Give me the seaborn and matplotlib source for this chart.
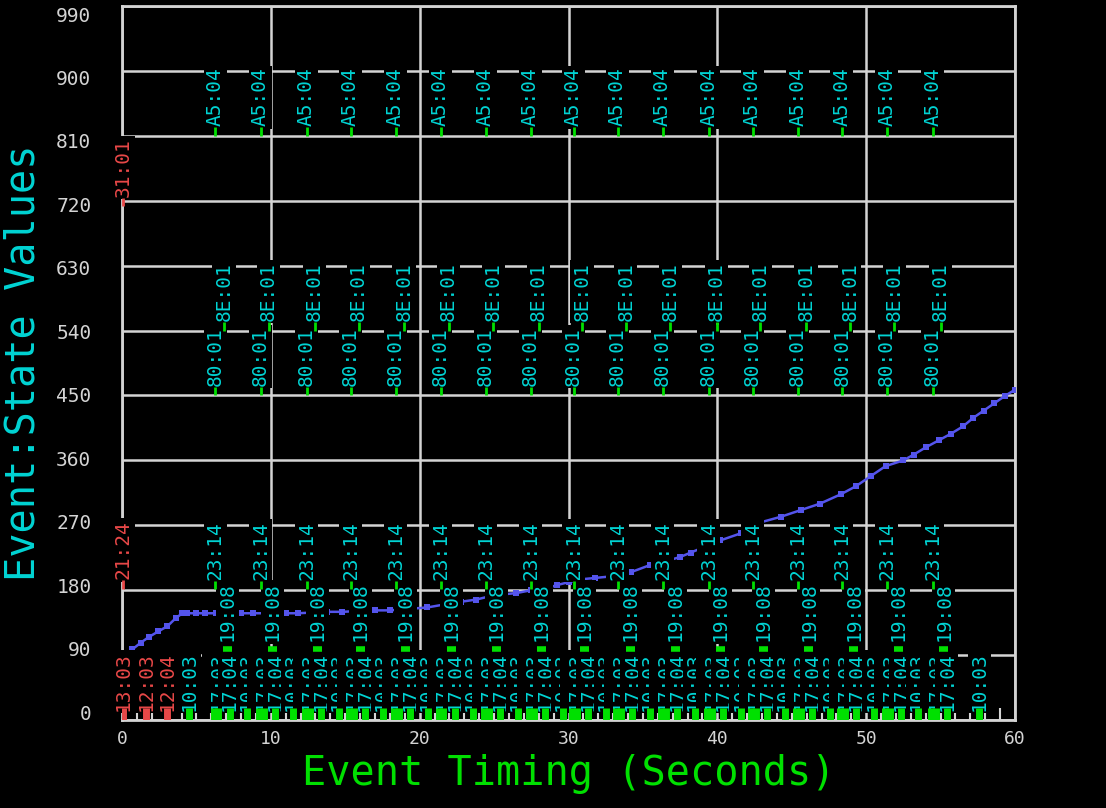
"""Event timing chart: state values over time with labelled events."""
import pandas as pd
import matplotlib.pyplot as plt
import matplotlib.transforms as mtransforms
import seaborn as sns

BG = "black"
GRID = "#d4d4d4"
CYAN = "#00d4d4"
RED = "#e84848"
GREEN = "#00e000"
BLUE = "#5454ec"

# state value curve (seconds, value)
curve_t = [0.7, 1.25, 1.8, 2.45, 3.05, 3.6, 4.05, 4.4, 4.95, 5.6, 6.3, 7.2, 8.0, 8.8, 9.8,
           11.0, 11.8, 12.8, 13.8, 14.8, 15.8, 17.0, 18.0, 19.2, 20.5, 21.6, 22.8, 23.8,
           24.8, 25.5, 26.5, 27.5, 28.5, 29.2, 30.0, 30.8, 31.8, 32.8, 33.5, 34.2, 35.5,
           36.5, 37.5, 38.2, 38.9, 40.2, 41.6, 42.9, 44.3, 45.6, 46.9, 48.3, 49.3, 50.3,
           51.3, 52.5, 53.2, 54.0, 54.9, 55.7, 56.5, 57.2, 57.9, 58.6, 59.3, 60.0]
curve_v = [98, 107, 115, 123, 130, 141, 148, 148, 148, 148, 148, 148, 148, 148, 148,
           148, 148, 149, 150, 150, 151, 152, 152, 154, 156, 160, 164, 167,
           172, 174, 176, 180, 182, 187, 191, 195, 197, 199, 202, 205, 215,
           220, 226, 232, 238, 249, 259, 274, 282, 291, 300, 313, 324, 338,
           352, 360, 368, 378, 388, 397, 407, 419, 429, 439, 449, 458]

# periodic events (seconds)
a5_times = [6.28, 9.31, 12.40, 15.36, 18.38, 21.40, 24.43, 27.45, 30.34, 33.30, 36.32,
            39.42, 42.37, 45.40, 48.36, 51.38, 54.47]
e80_times = [6.28, 9.31, 12.40, 15.36, 18.38, 21.40, 24.43, 27.45, 30.34, 33.30, 36.32,
             39.42, 42.37, 45.40, 48.36, 51.38, 54.47]
e8e_times = [6.85, 9.85, 12.95, 15.90, 18.95, 21.95, 24.95, 28.00, 30.90, 33.85, 36.85,
             39.95, 42.90, 45.95, 48.90, 51.90, 55.00]
e23_times = [6.28, 9.31, 12.40, 15.36, 18.38, 21.40, 24.43, 27.45, 30.34, 33.30, 36.32,
             39.42, 42.37, 45.40, 48.36, 51.38, 54.47]
e19_times = [7.09, 10.11, 13.14, 16.03, 19.05, 22.14, 25.17, 28.19, 31.08, 34.17, 37.19,
             40.22, 43.11, 46.14, 49.16, 52.18, 55.21]
# bottom row: a pair of nearly coincident events, then 17:04, then 10:03
e10a_times = [6.18, 9.21, 12.30, 15.26, 18.28, 21.30, 24.33, 27.35, 30.24, 33.20, 36.22,
              39.32, 42.27, 45.30, 48.26, 51.28, 54.37]
e17c_times = [6.48, 9.51, 12.60, 15.56, 18.58, 21.60, 24.63, 27.65, 30.54, 33.50, 36.52,
              39.62, 42.57, 45.60, 48.56, 51.58, 54.67]
e17_times = [7.23, 10.26, 13.35, 16.31, 19.33, 22.35, 25.38, 28.40, 31.29, 34.25, 37.27,
             40.37, 43.32, 46.35, 49.31, 52.33, 55.42]
e10b_times = [4.50, 8.43, 11.46, 14.55, 17.51, 20.53, 23.55, 26.58, 29.60, 32.49, 35.45,
              38.47, 41.57, 44.52, 47.55, 50.51, 53.45, 57.60]

# single red events: (seconds, level, label)
red_events = [(0.1, 0, "13:03"), (1.6, 0, "12:03"), (3.05, 0, "12:04"),
              (0.1, 182, "21:24"), (0.1, 712, "31:01")]

x_ticks = [0, 10, 20, 30, 40, 50, 60]
y_ticks = [0, 90, 180, 270, 360, 450, 540, 630, 720, 810, 900, 990]


def _build_events():
    rows = []
    for times, level, label in [
        (e10a_times, 0, "10:03"), (e17c_times, 0, "17:03"), (e17_times, 0, "17:04"),
        (e10b_times, 0, "10:03"), (e19_times, 96, "19:08"), (e23_times, 181, "23:14"),
        (e80_times, 450, "80:01"), (e8e_times, 540, "8E:01"), (a5_times, 810, "A5:04"),
    ]:
        rows += [dict(time=t, level=level, label=label, color=CYAN) for t in times]
    rows += [dict(time=t, level=lv, label=lb, color=RED) for t, lv, lb in red_events]
    return pd.DataFrame(rows).sort_values("time", kind="stable")


def main():
    sns.set_theme(style="dark", rc={
        "axes.facecolor": BG, "figure.facecolor": BG, "savefig.facecolor": BG,
        "axes.edgecolor": GRID, "grid.color": GRID, "text.color": GRID,
        "xtick.color": GRID, "ytick.color": GRID,
    })
    plt.rcParams["font.family"] = ["DejaVu Sans Mono", "DejaVu Sans"]

    fig = plt.figure(figsize=(11.06, 8.08), dpi=100)
    ax = fig.add_axes([122 / 1106, 1 - 720 / 808, 893 / 1106, 714 / 808])

    sns.lineplot(x=curve_t, y=curve_v, color=BLUE, marker="s", markersize=4,
                 markeredgewidth=0, linewidth=1.8, ax=ax, zorder=3)

    events = _build_events()
    for ev in events.itertuples():
        bottom_row = ev.level == 0
        mark_color = RED if ev.color == RED else GREEN
        if ev.label == "19:08":
            ax.plot([ev.time - 0.3, ev.time + 0.3], [ev.level + 2, ev.level + 2],
                    color=GREEN, lw=4, solid_capstyle="butt", zorder=7)
        else:
            ax.vlines(ev.time, ev.level, ev.level + (16 if bottom_row else 12),
                      color=mark_color, lw=5 if bottom_row else 2, zorder=7)
        ax.text(ev.time, ev.level + 13, ev.label, rotation=90, ha="center", va="bottom",
                color=ev.color, fontsize=14,
                bbox=dict(facecolor=BG, edgecolor="none", pad=1.5), zorder=5)

    ax.set_xlim(0, 60)
    ax.set_ylim(0, 990)
    ax.set_xticks(x_ticks)
    ax.set_yticks(y_ticks)
    ax.set_xticks(range(0, 61), minor=True)
    ax.tick_params(axis="both", which="major", length=0, labelsize=14, colors=GRID)
    ax.tick_params(axis="y", pad=22)
    ax.tick_params(axis="x", pad=7, labelsize=13)
    ax.tick_params(axis="x", which="minor", direction="in", length=9, width=1.5,
                   color=GRID, bottom=True)
    ax.grid(True, which="major", color=GRID, linewidth=1.8)
    ax.set_axisbelow(True)
    for spine in ax.spines.values():
        spine.set_color(GRID)
        spine.set_linewidth(2)

    # y labels sit slightly inside the outer gridlines, as in the original display
    for lab, v in zip(ax.get_yticklabels(), y_ticks):
        shift = (8 - v * 0.0162) / 100
        lab.set_transform(lab.get_transform()
                          + mtransforms.ScaledTranslation(0, shift, fig.dpi_scale_trans))

    ax.set_xlabel("Event Timing (Seconds)", color=GREEN, fontsize=29)
    ax.set_ylabel("Event:State Values", color=CYAN, fontsize=29)
    ax.xaxis.set_label_coords(0.5, -0.048)
    ax.yaxis.set_label_coords(-0.088, 0.5)

    fig.savefig("out.png", dpi=100)


if __name__ == "__main__":
    main()
